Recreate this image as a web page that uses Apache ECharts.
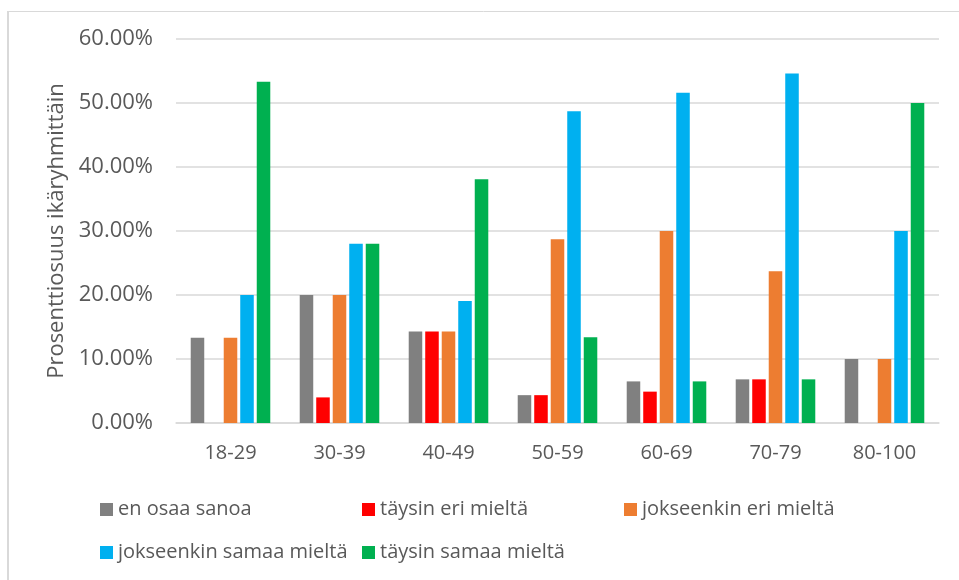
<!DOCTYPE html>
<html>
<head>
<meta charset="utf-8">
<script src="https://cdn.jsdelivr.net/npm/echarts@6/dist/echarts.min.js"></script>
<style>
html,body{margin:0;padding:0;background:#fff;}
#chart{width:959px;height:580px;}
</style>
</head>
<body>
<div id="chart"></div>
<script>
const categories = ['18-29', '30-39', '40-49', '50-59', '60-69', '70-79', '80-100'];
const seriesNames = ['en osaa sanoa', 'täysin eri mieltä', 'jokseenkin eri mieltä', 'jokseenkin samaa mieltä', 'täysin samaa mieltä'];
const enOsaaSanoa = [13.33, 20.0, 14.29, 4.35, 6.5, 6.82, 10.0];
const taysinEriMielta = [0, 4.0, 14.29, 4.35, 4.9, 6.82, 0];
const jokseenkinEriMielta = [13.33, 20.0, 14.29, 28.7, 30.0, 23.7, 10.0];
const jokseenkinSamaaMielta = [20.0, 28.0, 19.05, 48.7, 51.6, 54.6, 30.0];
const taysinSamaaMielta = [53.33, 28.0, 38.1, 13.4, 6.5, 6.82, 50.0];
const yAxisTitle = 'Prosenttiosuus ikäryhmittäin';

const seriesData = [enOsaaSanoa, taysinEriMielta, jokseenkinEriMielta, jokseenkinSamaaMielta, taysinSamaaMielta];
const colors = ['#808080', '#ff0000', '#ed7d31', '#00b0f0', '#00b050'];
const font = 'Open Sans';
const textColor = '#595959';

const chart = echarts.init(document.getElementById('chart'));
chart.setOption({
  animation: false,
  color: colors,
  textStyle: { fontFamily: font },
  grid: { left: 176, right: 20, top: 39, bottom: 157, containLabel: false },
  xAxis: {
    type: 'category',
    data: categories,
    axisLine: { show: true, lineStyle: { color: '#d9d9d9', width: 1.5 } },
    axisTick: { show: false },
    axisLabel: { color: textColor, fontSize: 20, fontFamily: font, margin: 20 }
  },
  yAxis: {
    type: 'value',
    min: 0, max: 60, interval: 10,
    name: yAxisTitle,
    nameLocation: 'middle',
    nameGap: 106,
    nameTextStyle: { color: textColor, fontSize: 22, fontFamily: font },
    axisLine: { show: false },
    axisTick: { show: false },
    splitLine: { lineStyle: { color: '#d9d9d9', width: 1.5 } },
    axisLabel: {
      color: textColor, fontSize: 22, fontFamily: font, margin: 23,
      formatter: v => v.toFixed(2) + '%'
    }
  },
  legend: {
    left: 95, top: 488, width: 800,
    itemWidth: 13, itemHeight: 13, itemGap: 10,
    icon: 'rect',
    textStyle: { color: textColor, fontSize: 20, fontFamily: font, width: 234, lineHeight: 33 },
    data: seriesNames
  },
  graphic: [
    { type: 'line', shape: { x1: 8, y1: 11.5, x2: 959, y2: 11.5 }, style: { stroke: '#d9d9d9', lineWidth: 1 } },
    { type: 'line', shape: { x1: 8, y1: 11, x2: 8, y2: 580 }, style: { stroke: '#d9d9d9', lineWidth: 2 } }
  ],
  series: seriesNames.map((name, i) => ({
    name: name,
    type: 'bar',
    data: seriesData[i],
    barGap: '22%',
    barCategoryGap: '27%'
  }))
});
</script>
</body>
</html>
